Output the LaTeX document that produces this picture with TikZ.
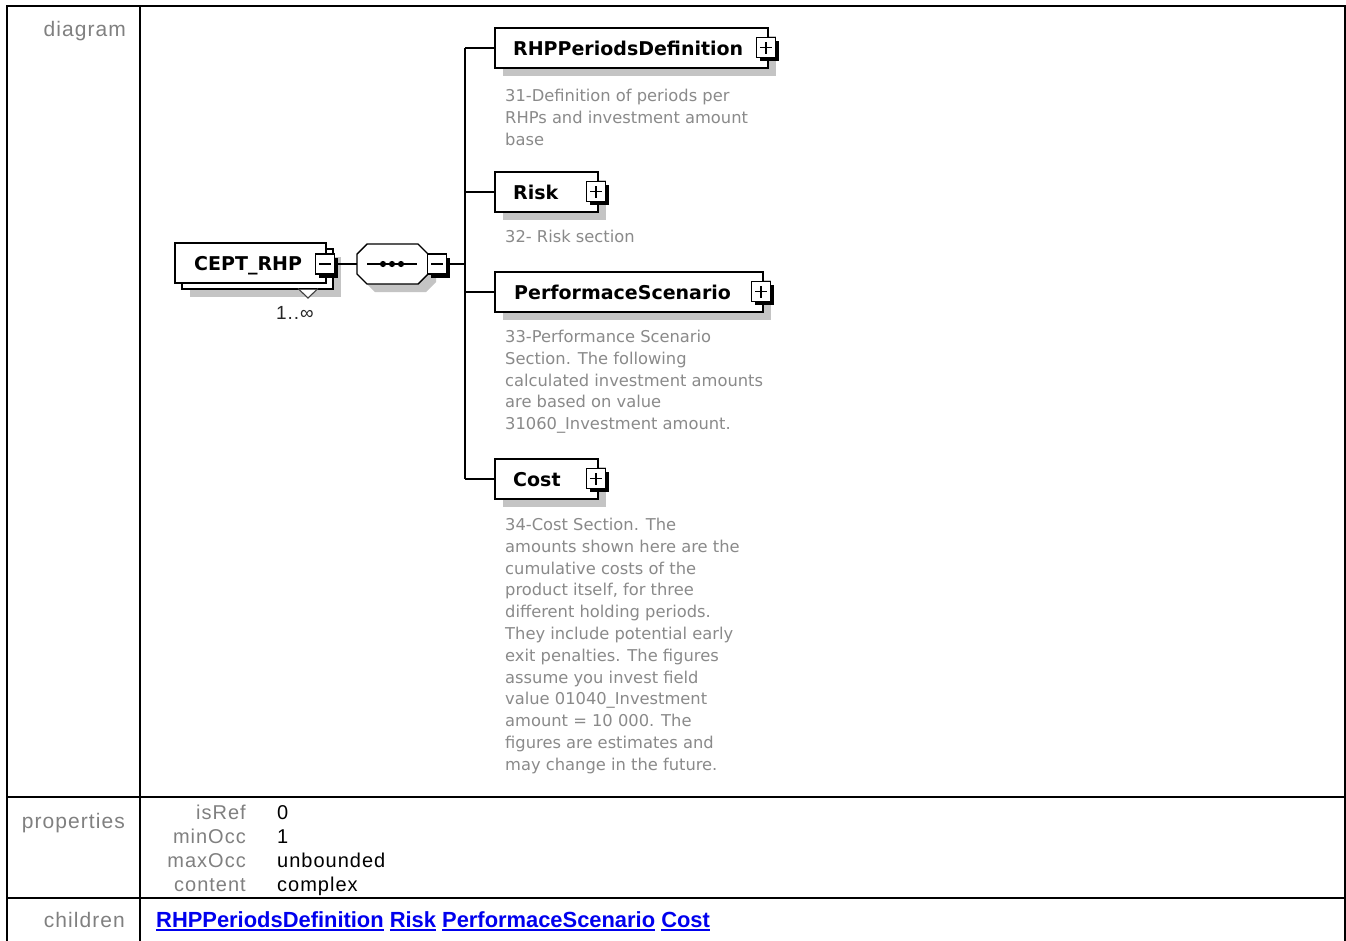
\documentclass[tikz,border=0pt]{standalone}
\usepackage{fontspec}
\setmainfont{DejaVu Sans}
\newfontfamily\tah{DejaVu Sans}
\newfontfamily\ari{Liberation Sans}[LetterSpace=5]
\newfontfamily\arib{Liberation Sans}
\usetikzlibrary{shadows}
\definecolor{shgrey}{HTML}{C4C4C4}
\definecolor{descgrey}{HTML}{8A8A8A}
\definecolor{labgrey}{HTML}{808080}
\definecolor{linkblue}{HTML}{0000EE}
\newcommand\ulink[1]{\setbox0\hbox{#1}\rlap{\rule[-3.5pt]{\wd0}{1.8pt}}\box0\relax}
\tikzset{
  tabline/.style={line width=2.2pt, draw=black},
  elbox/.style={rectangle, draw=black, line width=1.4pt, fill=white, inner sep=0pt},
  shad/.style={drop shadow={shadow xshift=8pt, shadow yshift=-8pt, fill=shgrey, opacity=1}},
  btnbox/.style={rectangle, draw=black, line width=1.6pt, fill=white, inner sep=0pt,
    minimum width=19pt, minimum height=20pt,
    drop shadow={shadow xshift=3.5pt, shadow yshift=-3.5pt, fill=black, opacity=1}},
  plusbox/.style={btnbox, path picture={
    \draw[line width=1.4pt] ([xshift=-6pt]path picture bounding box.center) -- ([xshift=6pt]path picture bounding box.center);
    \draw[line width=1.4pt] ([yshift=-6pt]path picture bounding box.center) -- ([yshift=6pt]path picture bounding box.center);}},
  minusbox/.style={btnbox, path picture={
    \draw[line width=1.4pt] ([xshift=-6pt]path picture bounding box.center) -- ([xshift=6pt]path picture bounding box.center);}},
  elname/.style={anchor=base west, inner sep=0pt, font=\tah\bfseries\fontsize{19}{22}\selectfont, text=black},
  desc/.style={anchor=base west, inner sep=0pt, font=\tah\fontsize{16.3}{21.8}\selectfont, text=descgrey},
  lab/.style={anchor=base east, inner sep=0pt, font=\ari\fontsize{21}{24}\selectfont, text=labgrey},
  pname/.style={anchor=base east, inner sep=0pt, font=\ari\fontsize{20}{24}\selectfont, text=labgrey},
  pval/.style={anchor=base west, inner sep=0pt, font=\ari\fontsize{20}{24}\selectfont, text=black},
  conn/.style={line width=1.4pt, draw=black},
}
\begin{document}
\begin{tikzpicture}[x=1pt,y=-1pt]
\useasboundingbox (0,0) rectangle (1346,940);
\fill[white] (0,0) rectangle (1346,940);

% table
\draw[tabline] (7,960) -- (7,6) -- (1345,6) -- (1345,960);
\draw[tabline] (140,6) -- (140,960);
\draw[tabline] (7,797) -- (1345,797);
\draw[tabline] (7,898) -- (1345,898);

\node[lab] (ldiag) at (126,36) {diagram};
\node[lab] (lprop) at (125,828) {properties};
\node[lab] (lchild) at (125,927) {children};

% root element
\node[elbox, shad, minimum width=151pt, minimum height=40pt] (ceptback) at (257.5,269) {};
\fill[white] (299,289.5) -- (308,297) -- (317,289.5) -- cycle;
\draw[line width=1.1pt, draw=black!75] (298,288.5) -- (308,298) -- (318,288.5);
\node[elbox, minimum width=151pt, minimum height=40pt] (cept) at (250.5,263) {};
\node[elname] (ceptt) at (194,270) {CEPT\_RHP};
\node[minusbox] (cmin) at (325,264) {};
\node[anchor=base west, inner sep=0pt, font=\ari\fontsize{19}{22}\selectfont, text=black!85] (occ) at (276,319) {1..∞};

% sequence compositor
\node[rectangle, draw=none, minimum width=71pt, minimum height=40pt, inner sep=0pt] (seq) at (392.5,264) {};
\fill[shgrey] (375,252) -- (426,252) -- (436,262) -- (436,282) -- (426,292) -- (375,292) -- (365,282) -- (365,262) -- cycle;
\draw[line width=1.4pt, fill=white] (367,244) -- (418,244) -- (428,254) -- (428,274) -- (418,284) -- (367,284) -- (357,274) -- (357,254) -- cycle;
\draw[line width=1.5pt] (367,264) -- (417,264);
\foreach \dx in {383,392,401} \fill (\dx,264) circle (3.1pt);
\node[minusbox] (smin) at (437,264) {};

\draw[conn] (cmin.east) -- (seq.west);
\coordinate (bus) at (465,264);
\draw[conn] (smin.east) -- (bus);

% children
\node[elbox, shad, minimum width=273pt, minimum height=40pt] (rhp) at (631.5,48) {};
\node[elname] (rhpt) at (513,55) {RHPPeriodsDefinition};
\node[plusbox] (rhpp) at (766,47.5) {};
\node[desc] (rhpd) at (505,101.5) {\parbox[t]{320pt}{\raggedright 31-Definition of periods per\\RHPs and investment amount\\base}};

\node[elbox, shad, minimum width=103pt, minimum height=40pt] (risk) at (546.5,192) {};
\node[elname] (riskt) at (513,199) {Risk};
\node[plusbox] (riskp) at (596,191.5) {};
\node[desc] (riskd) at (505,242) {\parbox[t]{320pt}{\raggedright 32- Risk section}};

\node[elbox, shad, minimum width=268pt, minimum height=40pt] (perf) at (629,292) {};
\node[elname] (perft) at (514,299) {PerformaceScenario};
\node[plusbox] (perfp) at (761,291.5) {};
\node[desc] (perfd) at (505,342.5) {\parbox[t]{320pt}{\raggedright 33-Performance Scenario\\Section. The following\\calculated investment amounts\\are based on value\\31060\_Investment amount.}};

\node[elbox, shad, minimum width=103pt, minimum height=40pt] (cost) at (546.5,479) {};
\node[elname] (costt) at (513,486) {Cost};
\node[plusbox] (costp) at (596,478.5) {};
\node[desc] (costd) at (505,530.5) {\parbox[t]{320pt}{\raggedright 34-Cost Section. The\\amounts shown here are the\\cumulative costs of the\\product itself, for three\\different holding periods.\\They include potential early\\exit penalties. The figures\\assume you invest field\\value 01040\_Investment\\amount = 10 000. The\\figures are estimates and\\may change in the future.}};

% bus
\draw[conn] (rhp.west -| bus) -- (cost.west -| bus);
\draw[conn] (rhp.west -| bus) -- (rhp.west);
\draw[conn] (risk.west -| bus) -- (risk.west);
\draw[conn] (perf.west -| bus) -- (perf.west);
\draw[conn] (cost.west -| bus) -- (cost.west);

% properties
\node[pname] (p1) at (246,819) {isRef};
\node[pname] (p2) at (246,843) {minOcc};
\node[pname] (p3) at (246,867) {maxOcc};
\node[pname] (p4) at (246,891) {content};
\node[pval] (v1) at (277,819) {0};
\node[pval] (v2) at (277,843) {1};
\node[pval] (v3) at (277,867) {unbounded};
\node[pval] (v4) at (277,891) {complex};

% children links
\node[anchor=base west, inner sep=0pt, font=\arib\bfseries\fontsize{21.9}{24}\selectfont, text=linkblue] (links) at (156,927)
  {\ulink{RHPPeriodsDefinition} \ulink{Risk} \ulink{PerformaceScenario} \ulink{Cost}};
\end{tikzpicture}
\end{document}
